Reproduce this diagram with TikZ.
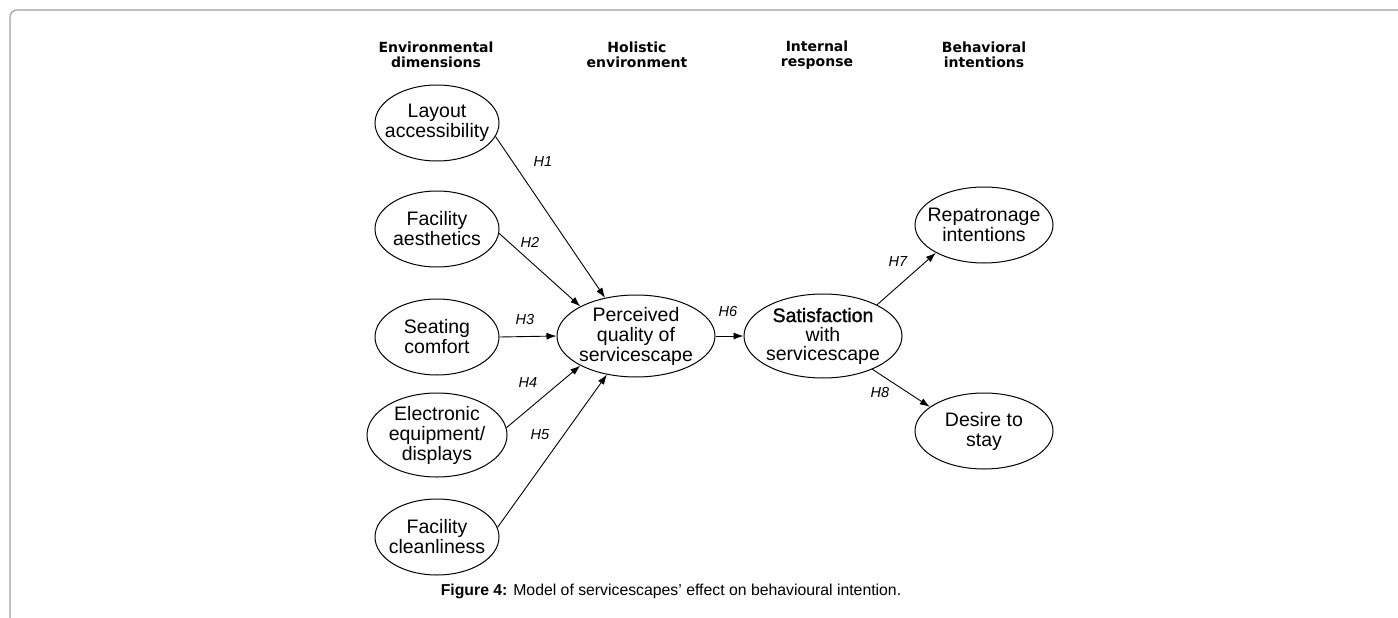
\documentclass[tikz,border=0pt]{standalone}
\usepackage{fontspec}
\setmainfont{Liberation Sans}
\newfontfamily\headfont{DejaVu Sans}
\newfontfamily\darkfont[FakeBold=1.2]{Liberation Sans}
\usetikzlibrary{shapes.geometric, arrows.meta, positioning}

\begin{document}
\begin{tikzpicture}[
    x=1pt, y=-1pt,
    construct/.style={ellipse, draw, line width=1pt, inner sep=-15pt, minimum width=124pt, minimum height=76pt, align=center, font=\fontsize{19.5}{20}\selectfont},
    heading/.style={align=center, font=\headfont\bfseries\fontsize{14}{15}\selectfont},
    hyp/.style={font=\itshape\fontsize{14.5}{14.5}\selectfont},
    arrow/.style={line width=0.9pt, -{Latex[length=10pt,width=7pt]}},
    frame/.style={draw=gray!75, line width=1.2pt, rounded corners=7pt}
]
    \useasboundingbox (0,0) rectangle (1398,618);
    \coordinate (fb) at (10,620);
    \coordinate (fr) at (1400,10);
    \draw [frame] (fb) |- (fr);

    \node (envdim) [heading] at (436,55) {Environmental\\dimensions};
    \node (holenv) [heading] at (637,55) {Holistic\\environment};
    \node (intres) [heading] at (817,55) {Internal\\response};
    \node (behint) [heading] at (984,55) {Behavioral\\intentions};

    \node (layout) [construct] at (437,123) {Layout\\accessibility};
    \node (aesth)  [construct, below=29pt of layout] {Facility\\aesthetics};
    \node (seat)   [construct, below=31pt of aesth] {Seating\\comfort};
    \node (elec)   [construct, below=17pt of seat, minimum width=140pt, minimum height=84pt] {Electronic\\equipment/\\displays};
    \node (clean)  [construct, below=21pt of elec] {Facility\\cleanliness};

    \node (qual)   [construct, minimum width=158pt, minimum height=82pt] at (636,336) {Perceived\\quality of\\servicescape};
    \node (satis)  [construct, minimum width=158pt, minimum height=84pt, right=28pt of qual, font=\fontsize{19.5}{19}\selectfont] {{\darkfont Satisfaction}\\with\\servicescape};
    \node (repat)  [construct, minimum width=138pt] at (984,225) {Repatronage\\intentions};
    \node (stay)   [construct, minimum width=138pt] at (984,431) {Desire to\\stay};

    \draw [arrow] (layout.-13) -- (qual.129);
    \draw [arrow] (aesth.-4) -- (qual.152);
    \draw [arrow] (seat.east) -- (qual.west);
    \draw [arrow] (elec.6) -- (qual.208);
    \draw [arrow] (clean.9) -- (qual.233);
    \draw [arrow] (qual.east) -- (satis.west);
    \draw [arrow] (satis.30) -- (repat.210);
    \draw [arrow] (satis.-34) -- (stay.156);

    \node (h1) [hyp] at (543,162) {H1};
    \node (h2) [hyp] at (530,242) {H2};
    \node (h3) [hyp] at (525,320) {H3};
    \node (h4) [hyp] at (528,383) {H4};
    \node (h5) [hyp] at (540,435) {H5};
    \node (h6) [hyp] at (728,312) {H6};
    \node (h7) [hyp] at (898,262) {H7};
    \node (h8) [hyp] at (880,393) {H8};

    \node (caption) [font=\fontsize{15.8}{18}\selectfont] at (671,591) {\textbf{Figure 4:} Model of servicescapes’ effect on behavioural intention.};
\end{tikzpicture}
\end{document}
